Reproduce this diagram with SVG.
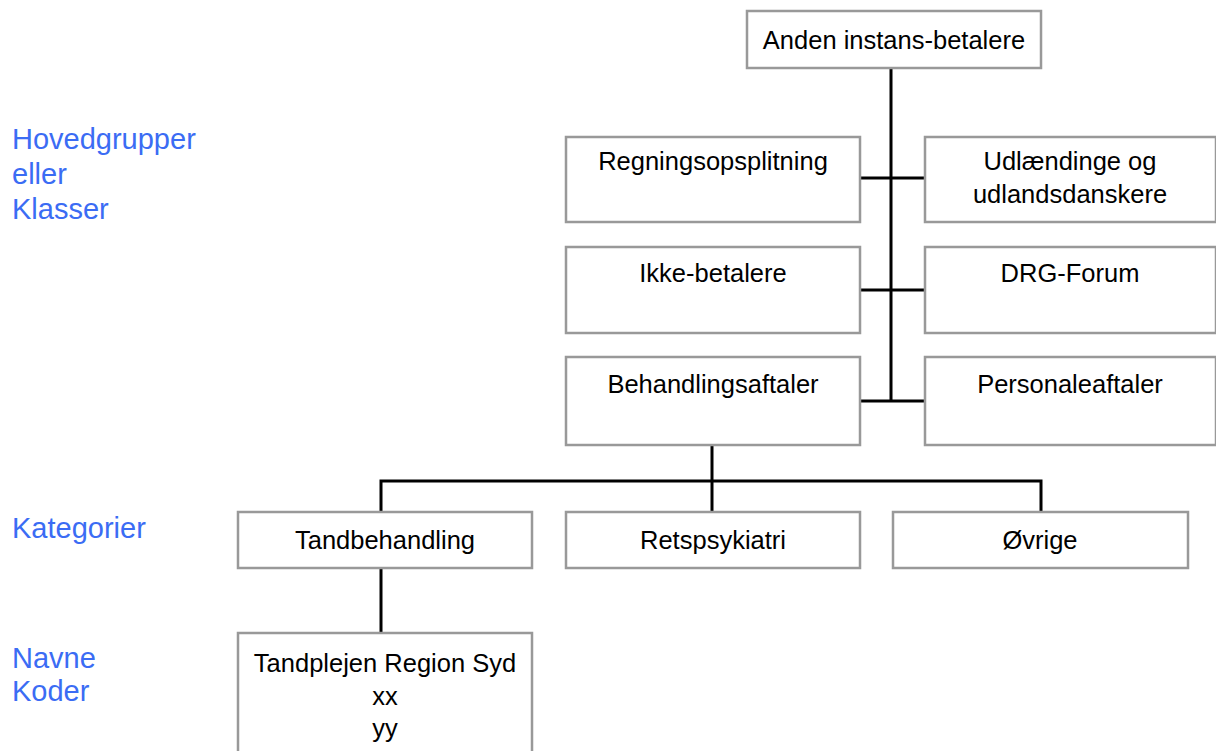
<svg xmlns="http://www.w3.org/2000/svg" width="1216" height="751" viewBox="0 0 1216 751">
<style>
.box{fill:#ffffff;stroke:#999999;stroke-width:2.5}
.t{font-family:"Liberation Sans",Arial,sans-serif;font-size:25.5px;fill:#000000;text-anchor:middle}
.lbl{font-family:"Liberation Sans",Arial,sans-serif;font-size:29px;fill:#3b6cf4}
.c{stroke:#000000;stroke-width:3;fill:none}
</style>
<rect x="0" y="0" width="1216" height="751" fill="#ffffff"/>
<g id="labels">
<text class="lbl" x="12" y="149">Hovedgrupper</text>
<text class="lbl" x="12" y="184">eller</text>
<text class="lbl" x="12" y="219">Klasser</text>
<text class="lbl" x="12" y="538">Kategorier</text>
<text class="lbl" x="12" y="668">Navne</text>
<text class="lbl" x="12" y="701">Koder</text>
</g>
<g id="connectors">
<path class="c" d="M891 68 V401"/>
<path class="c" d="M860 178 H925"/>
<path class="c" d="M860 290 H925"/>
<path class="c" d="M860 401 H925"/>
<path class="c" d="M712 445 V481"/>
<path class="c" d="M381 512 V481 H1041 V512"/>
<path class="c" d="M712 481 V512"/>
<path class="c" d="M381 568 V633"/>
</g>
<g id="n-anden">
<rect class="box" x="747" y="11" width="294" height="57"/>
<text class="t" x="894" y="49">Anden instans-betalere</text>
</g>
<g id="n-regning">
<rect class="box" x="566" y="137" width="294" height="85"/>
<text class="t" x="713" y="170">Regningsopsplitning</text>
</g>
<g id="n-udl">
<rect class="box" x="925" y="137" width="291" height="85"/>
<text class="t" x="1070" y="170">Udlændinge og</text>
<text class="t" x="1070" y="203">udlandsdanskere</text>
</g>
<g id="n-ikke">
<rect class="box" x="566" y="247" width="294" height="86"/>
<text class="t" x="713" y="282">Ikke-betalere</text>
</g>
<g id="n-drg">
<rect class="box" x="925" y="247" width="291" height="86"/>
<text class="t" x="1070" y="282">DRG-Forum</text>
</g>
<g id="n-behandling">
<rect class="box" x="566" y="357" width="294" height="88"/>
<text class="t" x="713" y="393">Behandlingsaftaler</text>
</g>
<g id="n-personale">
<rect class="box" x="925" y="357" width="291" height="88"/>
<text class="t" x="1070" y="393">Personaleaftaler</text>
</g>
<g id="n-tand">
<rect class="box" x="238" y="512" width="294" height="56"/>
<text class="t" x="385" y="549">Tandbehandling</text>
</g>
<g id="n-rets">
<rect class="box" x="566" y="512" width="294" height="56"/>
<text class="t" x="713" y="549">Retspsykiatri</text>
</g>
<g id="n-ovrige">
<rect class="box" x="893" y="512" width="295" height="56"/>
<text class="t" x="1040" y="549">Øvrige</text>
</g>
<g id="n-tandplejen">
<rect class="box" x="238" y="633" width="294" height="130"/>
<text class="t" x="385" y="672">Tandplejen Region Syd</text>
<text class="t" x="385" y="705">xx</text>
<text class="t" x="385" y="737">yy</text>
</g>
</svg>
